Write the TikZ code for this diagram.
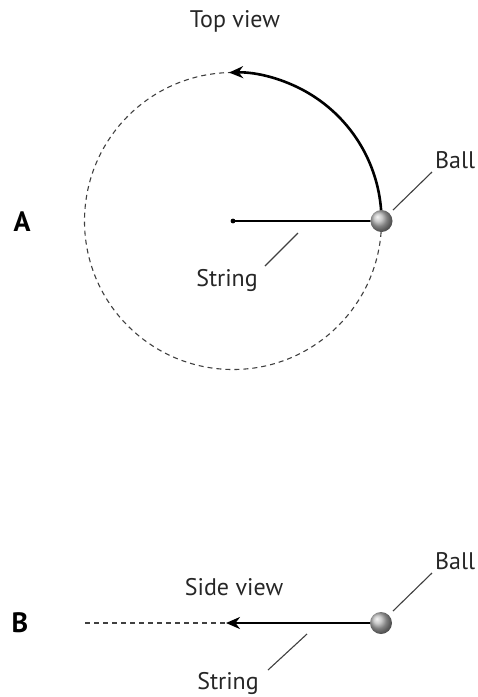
\documentclass[tikz,border=0pt]{standalone}
\usepackage{fontspec}
\setmainfont{PT Sans}
\usetikzlibrary{arrows.meta}
\begin{document}
\begin{tikzpicture}[x=1pt,y=-1pt,
  lbl/.style={font=\fontsize{24}{28}\selectfont, text=black!85, inner sep=0pt},
  letter/.style={font=\fontsize{28}{32}\selectfont\bfseries, inner sep=0pt},
  leader/.style={draw=black!75, line width=1.1pt},
  dashline/.style={draw=black!75, line width=1.1pt, dash pattern=on 5pt off 4pt},
  motion/.style={draw=black, line width=2.6pt, -{Stealth[length=14pt,width=12pt,inset=4.5pt]}},
  stringline/.style={draw=black, line width=1.5pt},
  ballstyle/.style={circle, minimum size=22pt, inner sep=0pt, shading=ball, ball color=black!28}
]
\useasboundingbox (0,0) rectangle (478,697);
% Part A
\coordinate (c) at (233,221);
\draw[dashline] (233,72.5) arc[start angle=270, end angle=0, radius=148.5];
\draw[motion] (381.5,221) arc[start angle=0, end angle=-91.5, radius=148.5];
\fill (c) circle (2.4pt);
\node[ballstyle] (ballA) at (381.5,221) {};
\draw[stringline] (c) -- (ballA.west);
\node[lbl] (top) at (235,21) {Top view};
\node[letter] (A) at (22,222) {A};
\node[lbl, anchor=west] (ballAl) at (435,160) {Ball};
\coordinate (bA1) at (393,210);
\coordinate (bA2) at (432,172);
\draw[leader] (bA1) -- (bA2);
\node[lbl] (strA) at (227,280) {String};
\coordinate (sA1) at (265,266);
\coordinate (sA2) at (298,233);
\draw[leader] (sA1) -- (sA2);
% Part B
\node[letter] (B) at (20,623) {B};
\node[ballstyle] (ballB) at (381,623) {};
\coordinate (arrB) at (226,623);
\coordinate (dashB) at (85,623);
\draw[dashline] (dashB) -- (arrB);
\draw[motion] (ballB.west) -- (arrB);
\node[lbl] (side) at (234,587) {Side view};
\node[lbl, anchor=west] (ballBl) at (435,561) {Ball};
\coordinate (bB1) at (393,611);
\coordinate (bB2) at (432,573);
\draw[leader] (bB1) -- (bB2);
\node[lbl] (strB) at (228,683) {String};
\coordinate (sB1) at (268,670);
\coordinate (sB2) at (307,634);
\draw[leader] (sB1) -- (sB2);
\end{tikzpicture}
\end{document}
